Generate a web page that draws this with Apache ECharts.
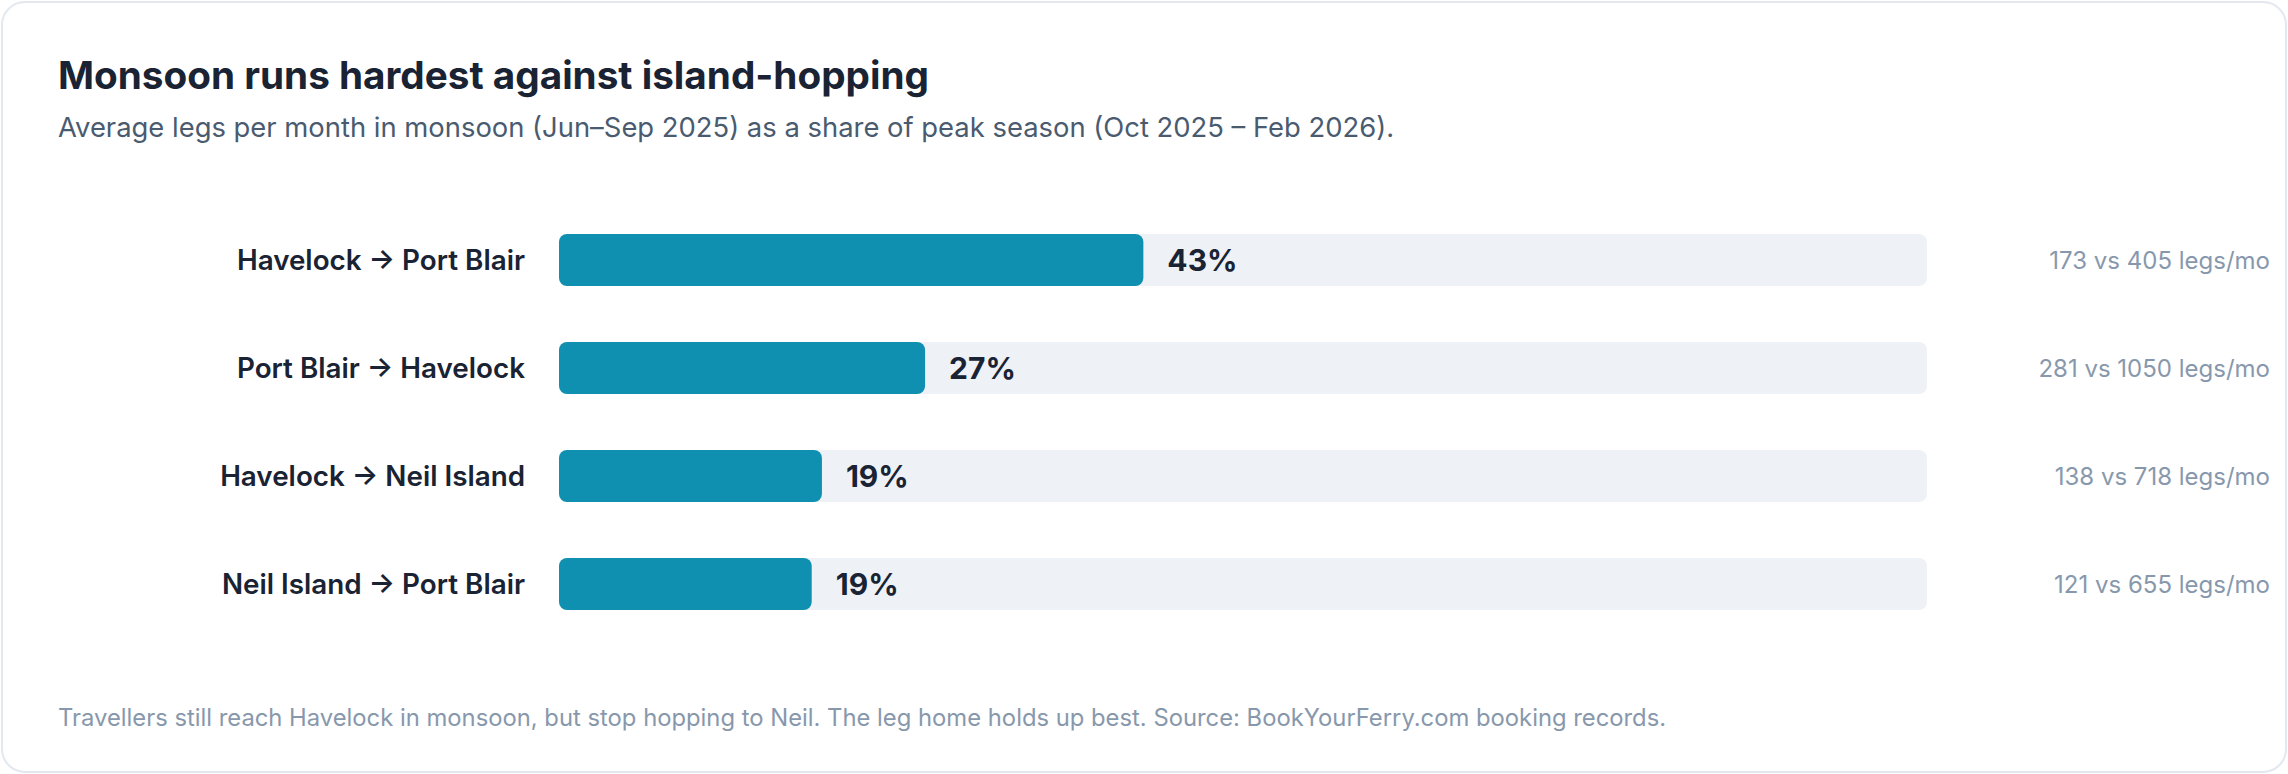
<!DOCTYPE html>
<html>
<head>
<meta charset="utf-8">
<script src="https://cdn.jsdelivr.net/npm/echarts@6/dist/echarts.min.js"></script>
<style>
  html, body { margin: 0; padding: 0; background: #ffffff; }
  #card {
    position: absolute; left: 1px; top: 1px; width: 2286px; height: 772px;
    box-sizing: border-box; border: 2px solid #e3e8ef; border-radius: 24px; background: #fff; overflow: hidden;
  }
  #chart { position: absolute; left: -3px; top: -3px; width: 2288px; height: 774px; }
</style>
</head>
<body>
<div id="card"><div id="chart"></div></div>
<script>
const routes = ['Havelock → Port Blair', 'Port Blair → Havelock', 'Havelock → Neil Island', 'Neil Island → Port Blair'];
const monsoonLegs = [173, 281, 138, 121];
const peakLegs = [405, 1050, 718, 655];
const shareLabels = ['43%', '27%', '19%', '19%'];
const titleText = 'Monsoon runs hardest against island-hopping';
const subtitleText = 'Average legs per month in monsoon (Jun–Sep 2025) as a share of peak season (Oct 2025 – Feb 2026).';
const footerText = 'Travellers still reach Havelock in monsoon, but stop hopping to Neil. The leg home holds up best. Source: BookYourFerry.com booking records.';

const shares = monsoonLegs.map((m, i) => m / peakLegs[i]);
const rightLabels = monsoonLegs.map((m, i) => m + ' vs ' + peakLegs[i] + ' legs/mo');

const FONT = 'Inter, "Noto Sans", sans-serif';
const chart = echarts.init(document.getElementById('chart'), null, { renderer: 'svg' });
chart.setOption({
  animation: false,
  title: [
    {
      text: titleText, left: 58, top: 55, padding: 0,
      textStyle: { fontFamily: FONT, fontSize: 38.7, fontWeight: 700, color: '#1a2333' }
    },
    {
      text: subtitleText, left: 58, top: 113, padding: 0,
      textStyle: { fontFamily: FONT, fontSize: 27.4, fontWeight: 400, color: '#4a5b70' }
    }
  ],
  grid: { left: 559, right: 361, top: 206, bottom: 136, containLabel: false },
  xAxis: { type: 'value', min: 0, max: 1, show: false },
  yAxis: [
    {
      type: 'category', data: routes, inverse: true,
      axisLine: { show: false }, axisTick: { show: false }, splitLine: { show: false },
      axisLabel: { margin: 34, fontFamily: FONT, fontSize: 27.8, fontWeight: 600, color: '#1a2333' }
    },
    {
      type: 'category', data: rightLabels, inverse: true, position: 'right',
      axisLine: { show: false }, axisTick: { show: false }, splitLine: { show: false },
      axisLabel: { margin: 343, align: 'right', fontFamily: FONT, fontSize: 24, fontWeight: 400, color: '#8898ac' }
    }
  ],
  series: [{
    type: 'bar',
    data: shares,
    barWidth: 52,
    showBackground: true,
    backgroundStyle: { color: '#eef2f6', borderRadius: 8 },
    itemStyle: { color: '#1090b1', borderRadius: 8 },
    label: {
      show: true, position: 'right', distance: 24,
      formatter: p => shareLabels[p.dataIndex],
      fontFamily: FONT, fontSize: 30, fontWeight: 700, color: '#1a2333'
    }
  }],
  graphic: [{
    type: 'text', left: 58, top: 705,
    style: { text: footerText, font: '400 23.8px ' + FONT, fill: '#8898ac' }
  }]
});
</script>
</body>
</html>
